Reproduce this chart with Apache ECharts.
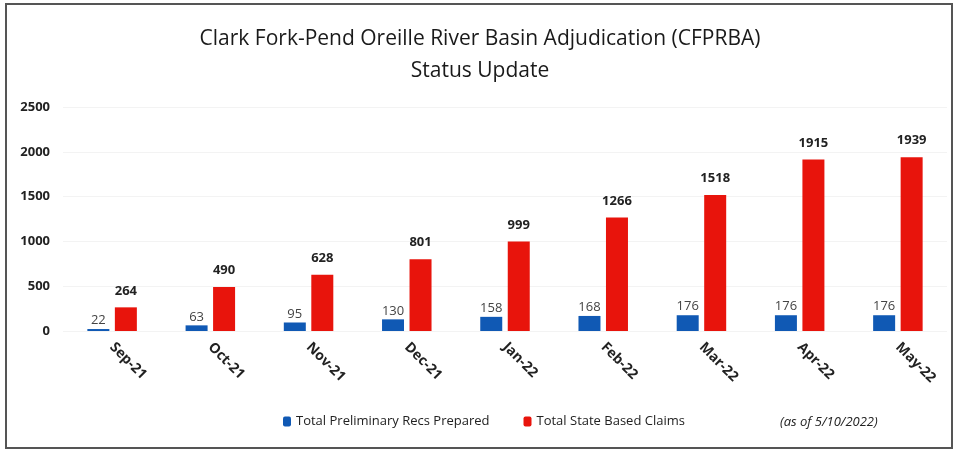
<!DOCTYPE html>
<html>
<head>
<meta charset="utf-8">
<script src="https://cdn.jsdelivr.net/npm/echarts@6/dist/echarts.min.js"></script>
<style>
  html, body { margin: 0; padding: 0; background: #fff; }
  #chart { width: 960px; height: 453px; }
</style>
</head>
<body>
<div id="chart"></div>
<script>
const months = ['Sep-21', 'Oct-21', 'Nov-21', 'Dec-21', 'Jan-22', 'Feb-22', 'Mar-22', 'Apr-22', 'May-22'];
const prelimRecs = [22, 63, 95, 130, 158, 168, 176, 176, 176];
const stateClaims = [264, 490, 628, 801, 999, 1266, 1518, 1915, 1939];

const chart = echarts.init(document.getElementById('chart'));
const fontFamily = '"Open Sans", "Noto Sans", sans-serif';

const option = {
  textStyle: { fontFamily },
  title: {
    text: 'Clark Fork-Pend Oreille River Basin Adjudication (CFPRBA)\nStatus Update',
    left: 'center',
    top: 18,
    textStyle: {
      fontSize: 21,
      fontWeight: 'normal',
      color: '#1a1a1a',
      lineHeight: 32,
      fontFamily,
    },
  },
  graphic: [
    {
      type: 'rect',
      shape: { x: 6, y: 4, width: 946, height: 444 },
      style: { fill: 'none', stroke: '#555', lineWidth: 2 },
      silent: true,
    },
    {
      type: 'text',
      left: 780,
      top: 416,
      style: {
        text: '(as of 5/10/2022)',
        font: 'italic 13px "Open Sans", sans-serif',
        fill: '#222',
      },
    },
  ],
  legend: {
    bottom: 20,
    left: 278,
    itemWidth: 8,
    itemHeight: 10,
    itemGap: 34,
    textStyle: { fontSize: 13, color: '#222', fontFamily },
    data: ['Total Preliminary Recs Prepared', 'Total State Based Claims'],
  },
  grid: {
    left: 63,
    right: 13,
    top: 107,
    bottom: 122,
  },
  xAxis: {
    type: 'category',
    data: months,
    axisLine: { show: false },
    axisTick: { show: false },
    axisLabel: {
      rotate: -45,
      margin: 14,
      fontSize: 14,
      fontWeight: 'bold',
      color: '#222',
    },
  },
  yAxis: {
    type: 'value',
    min: 0,
    max: 2500,
    interval: 500,
    axisLine: { show: false },
    axisTick: { show: false },
    axisLabel: {
      fontSize: 13,
      fontWeight: 'bold',
      color: '#222',
      margin: 13,
      formatter: (v) => String(v),
    },
    splitLine: { lineStyle: { color: '#f3f3f3' } },
  },
  series: [
    {
      name: 'Total Preliminary Recs Prepared',
      type: 'bar',
      data: prelimRecs,
      barWidth: 22,
      barGap: '25%',
      itemStyle: { color: '#1059b4' },
      label: {
        show: true,
        position: 'top',
        distance: 2,
        fontSize: 13,
        color: '#444',
      },
    },
    {
      name: 'Total State Based Claims',
      type: 'bar',
      data: stateClaims,
      barWidth: 22,
      itemStyle: { color: '#e8140c' },
      label: {
        show: true,
        position: 'top',
        distance: 10,
        fontSize: 13,
        fontWeight: 'bold',
        color: '#222',
      },
    },
  ],
};

chart.setOption(option);
</script>
</body>
</html>
